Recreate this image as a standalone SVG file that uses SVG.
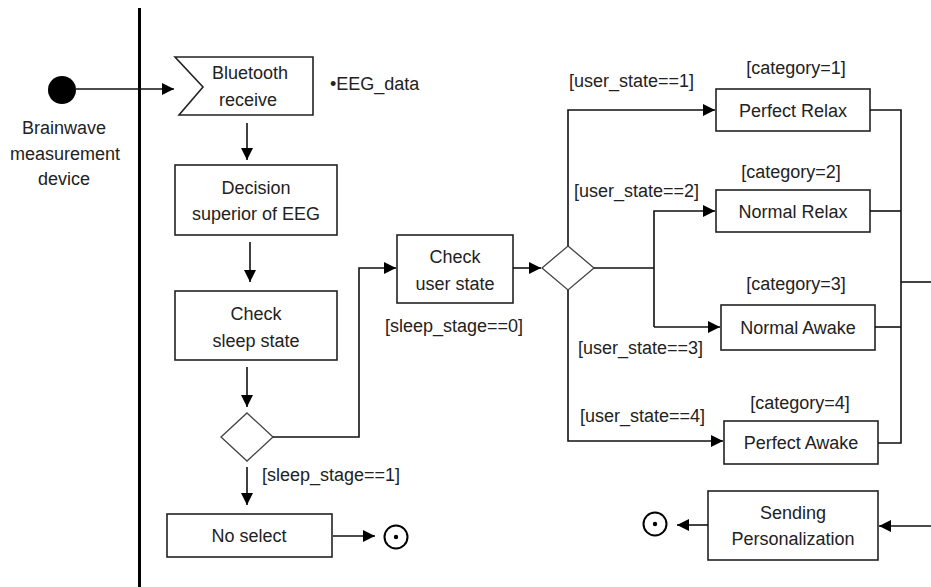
<svg xmlns="http://www.w3.org/2000/svg" width="931" height="587" viewBox="0 0 931 587">
<style>
.box{fill:#fff;stroke:#222;stroke-width:1.6}
.dia{fill:#fff;stroke:#444;stroke-width:1.3}
.ln{fill:none;stroke:#111;stroke-width:1.6}
.t{font-family:"Liberation Sans",Arial,sans-serif;font-size:18px;fill:#222;text-anchor:middle}
.l{font-family:"Liberation Sans",Arial,sans-serif;font-size:18px;fill:#222}
</style>
<defs>
<marker id="ah" viewBox="0 0 10 10" refX="10" refY="5" markerWidth="12" markerHeight="12" markerUnits="userSpaceOnUse" orient="auto">
<path d="M0,0 L10,5 L0,10 z" fill="#000"/>
</marker>
</defs>
<rect width="931" height="587" fill="#fff"/>
<line x1="139.5" y1="8" x2="139.5" y2="587" stroke="#000" stroke-width="3"/>

<g id="start">
<circle cx="62" cy="90" r="14" fill="#000"/>
<text class="t" x="64" y="134">Brainwave</text>
<text class="t" x="65" y="160">measurement</text>
<text class="t" x="64" y="185">device</text>
</g>

<g id="bluetooth">
<polygon class="box" points="175,57 313,57 313,115 179,115 203,87"/>
<text class="t" x="250" y="79">Bluetooth</text>
<text class="t" x="248" y="106">receive</text>
</g>
<g id="eegdata"><text class="l" x="330" y="90">•EEG_data</text></g>

<g id="decision">
<rect class="box" x="175" y="165" width="162" height="70"/>
<text class="t" x="256" y="194">Decision</text>
<text class="t" x="256" y="220">superior of EEG</text>
</g>

<g id="checksleep">
<rect class="box" x="175" y="291" width="162" height="69"/>
<text class="t" x="256" y="320">Check</text>
<text class="t" x="256" y="347">sleep state</text>
</g>

<g id="dia1"><polygon class="dia" points="247,413 273,437 247,461 221,437"/></g>

<g id="noselect">
<rect class="box" x="167" y="514" width="165" height="43"/>
<text class="t" x="249" y="542">No select</text>
</g>

<g id="end1">
<circle cx="396" cy="537" r="11.5" fill="#fff" stroke="#000" stroke-width="2"/>
<circle cx="396" cy="537" r="2.2" fill="#000"/>
</g>

<g id="checkuser">
<rect class="box" x="397" y="235" width="116" height="68"/>
<text class="t" x="455" y="263">Check</text>
<text class="t" x="455" y="290">user state</text>
</g>

<g id="dia2"><polygon class="dia" points="568,246 594,268 568,290 542,268"/></g>

<g id="perfectrelax">
<rect class="box" x="716" y="89" width="154" height="42"/>
<text class="t" x="793" y="117">Perfect Relax</text>
</g>
<g id="normalrelax">
<rect class="box" x="716" y="190" width="154" height="42"/>
<text class="t" x="793" y="218">Normal Relax</text>
</g>
<g id="normalawake">
<rect class="box" x="721" y="305" width="154" height="45"/>
<text class="t" x="798" y="334">Normal Awake</text>
</g>
<g id="perfectawake">
<rect class="box" x="724" y="421" width="154" height="43"/>
<text class="t" x="801" y="449">Perfect Awake</text>
</g>

<g id="sending">
<rect class="box" x="708" y="491" width="170" height="69"/>
<text class="t" x="793" y="519">Sending</text>
<text class="t" x="793" y="545">Personalization</text>
</g>

<g id="end2">
<circle cx="655" cy="524" r="11.5" fill="#fff" stroke="#000" stroke-width="2"/>
<circle cx="655" cy="524" r="2.2" fill="#000"/>
</g>

<g id="labels">
<text class="l" x="262" y="481">[sleep_stage==1]</text>
<text class="l" x="385" y="332">[sleep_stage==0]</text>
<text class="l" x="569" y="87">[user_state==1]</text>
<text class="l" x="574" y="197">[user_state==2]</text>
<text class="l" x="578" y="354">[user_state==3]</text>
<text class="l" x="580" y="422">[user_state==4]</text>
<text class="t" x="796" y="74">[category=1]</text>
<text class="t" x="791" y="178">[category=2]</text>
<text class="t" x="796" y="290">[category=3]</text>
<text class="t" x="800" y="409">[category=4]</text>
</g>

<g id="connectors">
<path class="ln" d="M76,89 H174" marker-end="url(#ah)"/>
<path class="ln" d="M247,123 V160" marker-end="url(#ah)"/>
<path class="ln" d="M250,242 V282" marker-end="url(#ah)"/>
<path class="ln" d="M247,367 V407" marker-end="url(#ah)"/>
<path class="ln" d="M273,437 H359 V268 H396" marker-end="url(#ah)"/>
<path class="ln" d="M247,467 V505" marker-end="url(#ah)"/>
<path class="ln" d="M333,536 H375" marker-end="url(#ah)"/>
<path class="ln" d="M513,268 H541" marker-end="url(#ah)"/>
<path class="ln" d="M568,246 V110 H715" marker-end="url(#ah)"/>
<path class="ln" d="M594,268 H654"/>
<path class="ln" d="M654,327 V211 H715" marker-end="url(#ah)"/>
<path class="ln" d="M654,327 H720" marker-end="url(#ah)"/>
<path class="ln" d="M568,290 V441 H723" marker-end="url(#ah)"/>
<path class="ln" d="M870,110 H901 V443 H878"/>
<path class="ln" d="M870,211 H901"/>
<path class="ln" d="M875,327 H901"/>
<path class="ln" d="M901,282 H931"/>
<path class="ln" d="M931,526 H879" marker-end="url(#ah)"/>
<path class="ln" d="M708,525 H677" marker-end="url(#ah)"/>
</g>
</svg>
